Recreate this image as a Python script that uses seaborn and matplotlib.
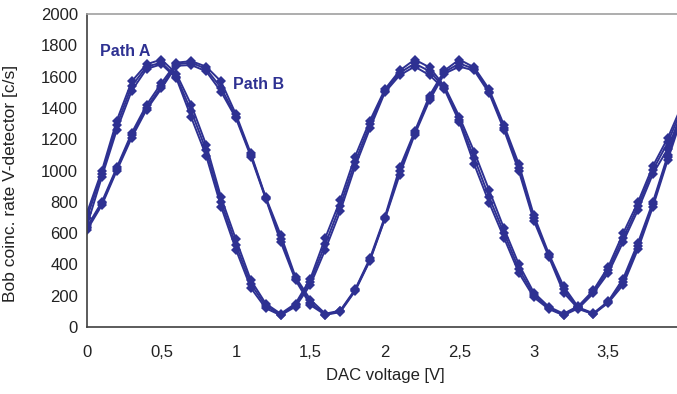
import numpy as np
import matplotlib
matplotlib.use('Agg')
import matplotlib.pyplot as plt
import seaborn as sns
from matplotlib.ticker import FuncFormatter, MultipleLocator

# DAC voltage steps [V]
dac_voltage = [round(0.1 * i, 1) for i in range(41)]

# Path A, three repeated scans [c/s]
path_a_1 = [730, 1000, 1320, 1570, 1680, 1710, 1620, 1420, 1165, 830, 560, 300, 150, 85, 150, 310,
            570, 810, 1090, 1320, 1520, 1640, 1710, 1660, 1540, 1345, 1120, 875, 630, 400, 220, 130,
            85, 135, 235, 385, 600, 800, 1030, 1210, 1430]
path_a_2 = [700, 980, 1290, 1540, 1665, 1690, 1600, 1380, 1130, 800, 525, 275, 135, 80, 140, 290,
            530, 775, 1055, 1295, 1510, 1625, 1685, 1635, 1530, 1325, 1080, 830, 600, 370, 205, 120,
            80, 125, 225, 365, 570, 775, 1005, 1180, 1410]
path_a_3 = [650, 960, 1260, 1510, 1650, 1680, 1590, 1340, 1095, 770, 495, 250, 120, 75, 130, 270,
            495, 740, 1025, 1270, 1500, 1610, 1665, 1610, 1520, 1310, 1040, 795, 570, 345, 190, 115,
            75, 120, 215, 345, 545, 750, 980, 1140, 1390]

# Path B, three repeated scans [c/s]
path_b_1 = [640, 800, 1020, 1240, 1420, 1560, 1690, 1700, 1665, 1570, 1360, 1110, 830, 590, 320, 175,
            85, 105, 240, 440, 705, 1020, 1250, 1480, 1640, 1710, 1660, 1520, 1290, 1040, 715, 470,
            260, 125, 88, 165, 310, 540, 800, 1100, 1400]
path_b_2 = [630, 790, 1010, 1225, 1400, 1540, 1680, 1690, 1650, 1530, 1345, 1100, 825, 565, 310, 155,
            80, 100, 235, 430, 695, 995, 1240, 1465, 1630, 1685, 1650, 1505, 1275, 1015, 695, 460,
            240, 120, 85, 160, 290, 520, 785, 1085, 1380]
path_b_3 = [620, 780, 1000, 1210, 1390, 1525, 1670, 1675, 1635, 1505, 1335, 1090, 820, 545, 300, 140,
            78, 95, 230, 425, 690, 975, 1230, 1450, 1620, 1665, 1640, 1495, 1260, 995, 680, 450,
            220, 115, 82, 155, 270, 500, 770, 1070, 1360]

series = [path_a_1, path_a_2, path_a_3, path_b_1, path_b_2, path_b_3]

blue = '#2e3192'

sns.set_style('white')
plt.rcParams['font.family'] = ['Liberation Sans', 'DejaVu Sans']

fig = plt.figure(figsize=(6.77, 3.94), dpi=100)
ax = fig.add_axes([0.1285, 0.170, 0.880, 0.794])

for values in series:
    sns.lineplot(x=dac_voltage, y=values, ax=ax, color=blue, linewidth=1.4,
                 marker='D', markersize=5, markeredgewidth=0)

ax.set_xlim(0, 4)
ax.set_ylim(0, 2000)
ax.xaxis.set_major_locator(MultipleLocator(0.5))
ax.yaxis.set_major_locator(MultipleLocator(200))
ax.xaxis.set_major_formatter(FuncFormatter(lambda v, p: f'{v:g}'.replace('.', ',')))

ax.tick_params(axis='x', direction='in', length=4, width=1, color='#404040',
               pad=13, labelsize=12, labelcolor='#222222')
ax.tick_params(axis='y', direction='out', length=5, width=1, color='#404040',
               pad=1.5, labelsize=12, labelcolor='#222222')

for side in ['left', 'bottom']:
    ax.spines[side].set_color('#404040')
    ax.spines[side].set_linewidth(1.2)
ax.spines['top'].set_color('#a0a0a0')
ax.spines['top'].set_linewidth(1.2)
ax.spines['right'].set_visible(False)

ax.set_xlabel('DAC voltage [V]', fontsize=12, color='#222222', labelpad=6)
ax.set_ylabel('Bob coinc. rate V-detector [c/s]', fontsize=12.5, color='#222222')
ax.yaxis.set_label_coords(-0.116, 0.46)

ax.text(0.09, 1760, 'Path A', color=blue, fontsize=11.5, fontweight='bold', va='center')
ax.text(0.98, 1550, 'Path B', color=blue, fontsize=11.5, fontweight='bold', va='center')

fig.savefig('out.png', dpi=100)
